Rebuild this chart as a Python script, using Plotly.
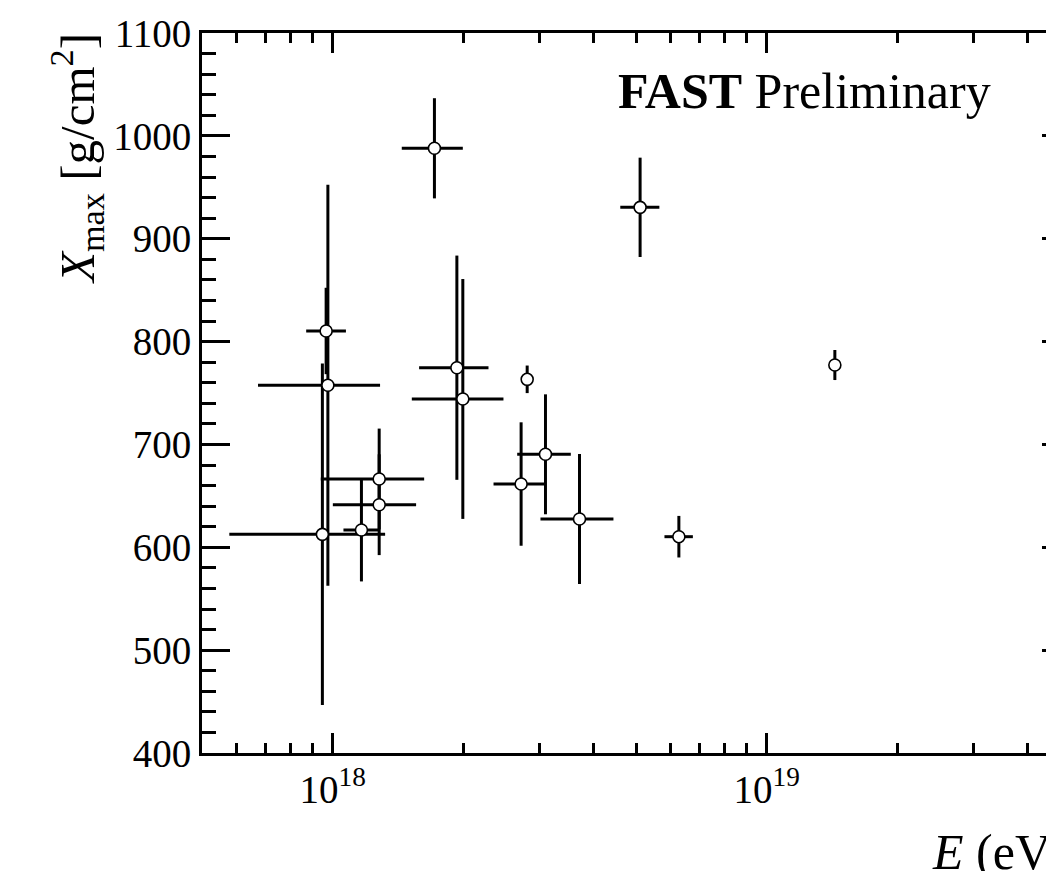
import plotly.graph_objects as go

# Measured shower maxima versus primary energy
energy_eV = [9.66e17, 9.75e17, 9.47e17, 1.28e18, 1.28e18, 1.165e18, 1.716e18, 5.11e18,
             1.933e18, 1.995e18, 2.807e18, 3.093e18, 2.718e18, 3.705e18, 6.277e18, 1.436e19]
energy_err_low = [0.97e17, 3.02e17, 3.69e17, 3.41e17, 2.79e17, 1.06e17, 2.73e17, 0.51e18,
                  0.351e18, 0.473e18, 0.0, 0.431e18, 0.37e18, 0.693e18, 0.462e18, 0.0]
energy_err_high = [1.07e17, 3.11e17, 3.74e17, 3.45e17, 2.77e17, 1.15e17, 2.79e17, 0.55e18,
                   0.353e18, 0.48e18, 0.0, 0.445e18, 0.358e18, 0.731e18, 0.484e18, 0.0]
xmax_gcm2 = [810.3, 757.5, 612.6, 666.4, 641.4, 616.8, 987.9, 930.5,
             774.6, 744.2, 763.3, 690.4, 661.5, 627.5, 610.3, 777.2]
xmax_err = [42, 195, 166, 49, 49, 50, 48.7, 48.3,
            109, 116.6, 13.4, 58.3, 60, 63.2, 20.2, 14.6]

x_major = [1e18, 1e19]
x_major_text = ["10<sup>18</sup>", "10<sup>19</sup>"]
x_minor = [m * 10.0 ** p for p in (17, 18, 19) for m in range(2, 10)]
x_minor = [v for v in x_minor if 5e17 <= v <= 5e19]

FONT = "Liberation Serif"
W, H = 1090, 871
ML, MR, MT, MB = 202, 20, 33, 118

fig = go.Figure()
fig.add_trace(go.Scatter(
    x=energy_eV, y=xmax_gcm2, mode="markers",
    marker=dict(symbol="circle", size=12, color="white",
                line=dict(color="black", width=1.6)),
    error_x=dict(type="data", symmetric=False, array=energy_err_high,
                 arrayminus=energy_err_low, color="black", thickness=3, width=0),
    error_y=dict(type="data", array=xmax_err, color="black", thickness=3, width=0),
    showlegend=False, hoverinfo="skip",
))

fig.update_layout(
    width=W, height=H,
    margin=dict(l=ML, r=MR, t=MT, b=MB),
    paper_bgcolor="white", plot_bgcolor="white",
    font=dict(family=FONT, color="black", size=39),
    xaxis=dict(
        type="log", range=[17.69897, 19.69897],
        showgrid=False, zeroline=False,
        showline=True, linecolor="black", linewidth=3, mirror="allticks",
        ticks="inside", ticklen=20, tickwidth=3, tickcolor="black",
        tickmode="array", tickvals=x_major, ticktext=x_major_text,
        tickfont=dict(family=FONT, size=39),
        minor=dict(tickmode="array", tickvals=x_minor, ticks="inside",
                   ticklen=10, tickwidth=3, tickcolor="black"),
    ),
    yaxis=dict(
        range=[400, 1100],
        showgrid=False, zeroline=False,
        showline=True, linecolor="black", linewidth=3, mirror="allticks",
        ticks="inside", ticklen=28, tickwidth=3, tickcolor="black",
        tickmode="linear", tick0=400, dtick=100,
        tickfont=dict(family=FONT, size=39),
        minor=dict(dtick=20, tick0=400, ticks="inside", ticklen=14,
                   tickwidth=3, tickcolor="black"),
    ),
)

def px_x(p):
    return (p - ML) / (W - ML - MR)

def px_y(p):
    return (H - MB - p) / (H - MT - MB)

fig.add_annotation(
    text="<b>FAST</b> Preliminary", xref="paper", yref="paper",
    x=px_x(616), y=px_y(91), xanchor="left", yanchor="middle",
    showarrow=False, font=dict(family=FONT, size=50, color="black"),
)
fig.add_annotation(
    text="<i>X</i><sub>max</sub> [g/cm<sup>2</sup>]", xref="paper", yref="paper",
    x=px_x(76), y=px_y(158), xanchor="center", yanchor="middle", textangle=-90,
    showarrow=False, font=dict(family=FONT, size=49, color="black"),
)
fig.add_annotation(
    text="<i>E</i> (eV)", xref="paper", yref="paper",
    x=1.0, y=px_y(852), xanchor="right", yanchor="middle",
    showarrow=False, font=dict(family=FONT, size=50, color="black"),
)

fig.write_html(
    "out.html",
    post_script="document.documentElement.style.overflow='hidden';"
                "document.body.style.overflow='hidden';",
)
